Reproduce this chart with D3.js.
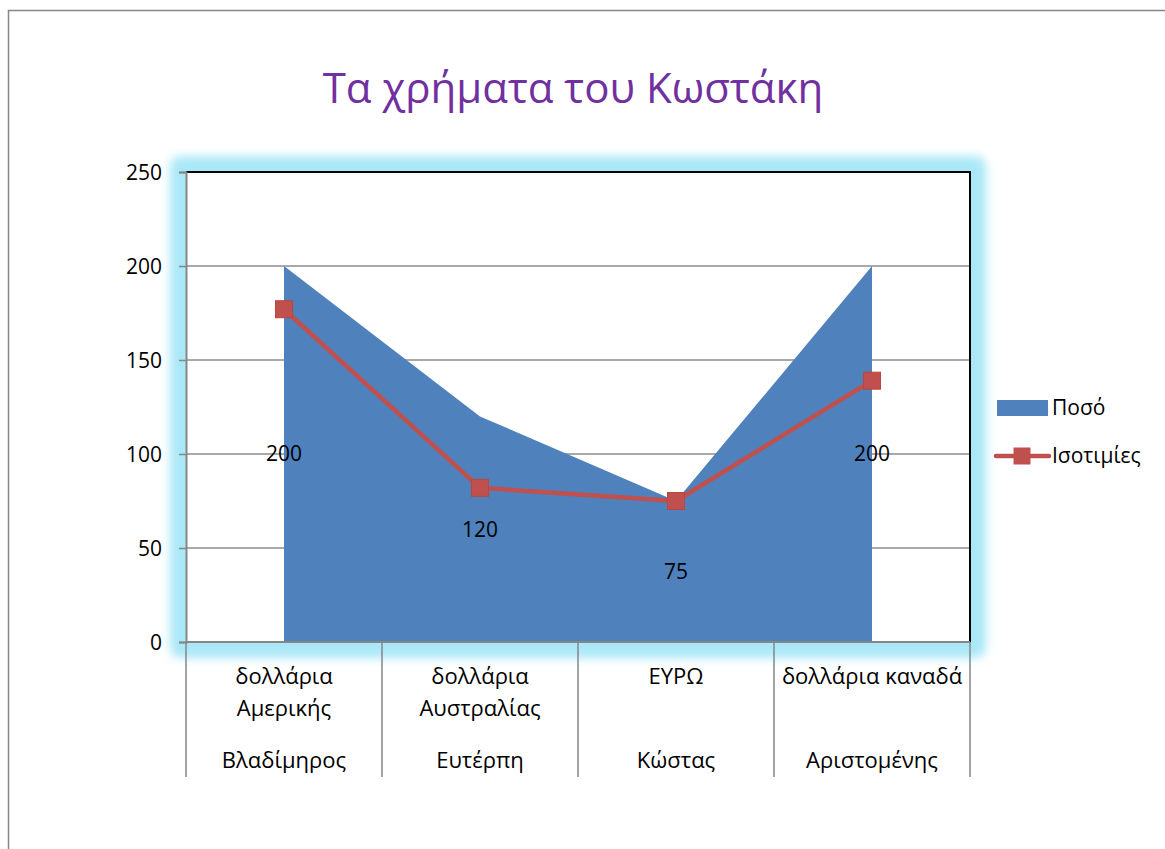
<!DOCTYPE html>
<html>
<head>
<meta charset="utf-8">
<script src="https://cdn.jsdelivr.net/npm/d3@7"></script>
<style>
  body { margin: 0; background: #fff; }
  text { font-family: "Open Sans", "Noto Sans", sans-serif; }
</style>
</head>
<body>
<script>
// chart data
var categories = ["δολλάρια Αμερικής", "δολλάρια Αυστραλίας", "ΕΥΡΩ", "δολλάρια καναδά"];
var categoryLines = [["δολλάρια", "Αμερικής"], ["δολλάρια", "Αυστραλίας"], ["ΕΥΡΩ"], ["δολλάρια καναδά"]];
var owners = ["Βλαδίμηρος", "Ευτέρπη", "Κώστας", "Αριστομένης"];
var amounts = [200, 120, 75, 200];      // Ποσό
var rates = [177, 82, 75, 139];         // Ισοτιμίες
var yTicks = [0, 50, 100, 150, 200, 250];

var width = 1165, height = 849;
var plot = {left: 186, top: 172, right: 970, bottom: 642};
var fs = 21;

var svg = d3.select("body").append("svg")
    .attr("width", width)
    .attr("height", height);

// outer chart border
svg.append("rect")
    .attr("x", 8.5).attr("y", 10.5)
    .attr("width", 1170).attr("height", 860)
    .attr("fill", "#fff")
    .attr("stroke", "#868686").attr("stroke-width", 1.5);

svg.append("text")
    .attr("x", 573).attr("y", 103)
    .attr("text-anchor", "middle")
    .attr("font-size", 42)
    .attr("fill", "#7030a0")
    .text("Τα χρήματα του Κωστάκη");

var x = d3.scaleBand().domain(categories).range([plot.left, plot.right]);
var y = d3.scaleLinear().domain([0, 250]).range([plot.bottom, plot.top]);
var cx = function(d, i) { return x(categories[i]) + x.bandwidth() / 2; };

// glow around plot area
var defs = svg.append("defs");
defs.append("filter").attr("id", "glow")
    .attr("x", "-10%").attr("y", "-10%").attr("width", "120%").attr("height", "120%")
  .append("feGaussianBlur").attr("stdDeviation", 5);

svg.append("rect")
    .attr("x", plot.left - 16).attr("y", plot.top - 16)
    .attr("width", plot.right - plot.left + 32).attr("height", plot.bottom - plot.top + 32)
    .attr("rx", 10)
    .attr("fill", "#aae8f8")
    .attr("filter", "url(#glow)");

svg.append("rect")
    .attr("x", plot.left).attr("y", plot.top)
    .attr("width", plot.right - plot.left).attr("height", plot.bottom - plot.top)
    .attr("fill", "#fff");

// gridlines
svg.append("g").selectAll("line")
    .data(yTicks.filter(function(t) { return t > 0 && t < 250; }))
    .join("line")
    .attr("x1", plot.left).attr("x2", plot.right)
    .attr("y1", function(d) { return y(d); }).attr("y2", function(d) { return y(d); })
    .attr("stroke", "#8c8c8c").attr("stroke-width", 1.5);

// area series
var area = d3.area()
    .x(cx)
    .y0(plot.bottom)
    .y1(function(d) { return y(d); });

svg.append("path")
    .datum(amounts)
    .attr("d", area)
    .attr("fill", "#4f81bd");

// plot border (top/right black)
svg.append("path")
    .attr("d", "M" + plot.left + "," + plot.top + "H" + plot.right + "V" + plot.bottom)
    .attr("fill", "none")
    .attr("stroke", "#000").attr("stroke-width", 2);

// y axis
var yAxis = svg.append("g")
    .attr("transform", "translate(" + plot.left + ",0)")
    .call(d3.axisLeft(y).tickValues(yTicks).tickSize(7).tickPadding(17));
yAxis.select(".domain").attr("stroke", "#868686").attr("stroke-width", 2);
yAxis.selectAll(".tick line").attr("stroke", "#868686").attr("stroke-width", 1.5);
yAxis.selectAll(".tick text")
    .attr("font-family", "'Open Sans', 'Noto Sans', sans-serif")
    .attr("font-size", fs).attr("fill", "#000").attr("dy", "0.35em");

// category axis (two tiers)
var sepX = categories.map(function(c) { return x(c); }).concat([plot.right]);
svg.append("line")
    .attr("x1", plot.left).attr("x2", plot.right)
    .attr("y1", plot.bottom).attr("y2", plot.bottom)
    .attr("stroke", "#868686").attr("stroke-width", 2);
svg.append("g").selectAll("line")
    .data(sepX)
    .join("line")
    .attr("x1", function(d) { return d; }).attr("x2", function(d) { return d; })
    .attr("y1", plot.bottom).attr("y2", 777)
    .attr("stroke", "#868686").attr("stroke-width", 1.5);

var catText = svg.append("g").selectAll("text")
    .data(categoryLines)
    .join("text")
    .attr("x", cx)
    .attr("y", 684)
    .attr("text-anchor", "middle")
    .attr("font-size", 22)
    .attr("fill", "#000");
catText.selectAll("tspan")
    .data(function(d) { return d; })
    .join("tspan")
    .attr("x", function() { return d3.select(this.parentNode).attr("x"); })
    .attr("dy", function(d, i) { return i === 0 ? 0 : 32; })
    .text(function(d) { return d; });

svg.append("g").selectAll("text")
    .data(owners)
    .join("text")
    .attr("x", cx)
    .attr("y", 768)
    .attr("text-anchor", "middle")
    .attr("font-size", 22)
    .attr("fill", "#000")
    .text(function(d) { return d; });

// line series
var line = d3.line().x(cx).y(function(d) { return y(d); });
svg.append("path")
    .datum(rates)
    .attr("d", line)
    .attr("fill", "none")
    .attr("stroke", "#c0504d").attr("stroke-width", 4.5)
    .attr("stroke-linejoin", "round");

var m = 17;
svg.append("g").selectAll("rect")
    .data(rates)
    .join("rect")
    .attr("x", function(d, i) { return cx(d, i) - m / 2; })
    .attr("y", function(d) { return y(d) - m / 2; })
    .attr("width", m).attr("height", m)
    .attr("fill", "#c0504d")
    .attr("stroke", "#b9463f").attr("stroke-width", 1);

// data labels for area
svg.append("g").selectAll("text")
    .data(amounts)
    .join("text")
    .attr("x", cx)
    .attr("y", function(d) { return y(d / 2); })
    .attr("dy", "0.35em")
    .attr("text-anchor", "middle")
    .attr("font-size", fs)
    .attr("fill", "#000")
    .text(function(d) { return d; });

// legend
var legend = svg.append("g");
legend.append("rect")
    .attr("x", 997).attr("y", 400)
    .attr("width", 51).attr("height", 16)
    .attr("fill", "#4f81bd");
legend.append("text")
    .attr("x", 1052).attr("y", 408).attr("dy", "0.35em")
    .attr("font-size", fs).attr("fill", "#000")
    .text("Ποσό");
legend.append("line")
    .attr("x1", 996).attr("x2", 1049)
    .attr("y1", 456).attr("y2", 456)
    .attr("stroke", "#c0504d").attr("stroke-width", 4.5)
    .attr("stroke-linecap", "round");
legend.append("rect")
    .attr("x", 1022 - m / 2).attr("y", 456 - m / 2)
    .attr("width", m).attr("height", m)
    .attr("fill", "#c0504d");
legend.append("text")
    .attr("x", 1052).attr("y", 456).attr("dy", "0.35em")
    .attr("font-size", fs).attr("fill", "#000")
    .text("Ισοτιμίες");
</script>
</body>
</html>
